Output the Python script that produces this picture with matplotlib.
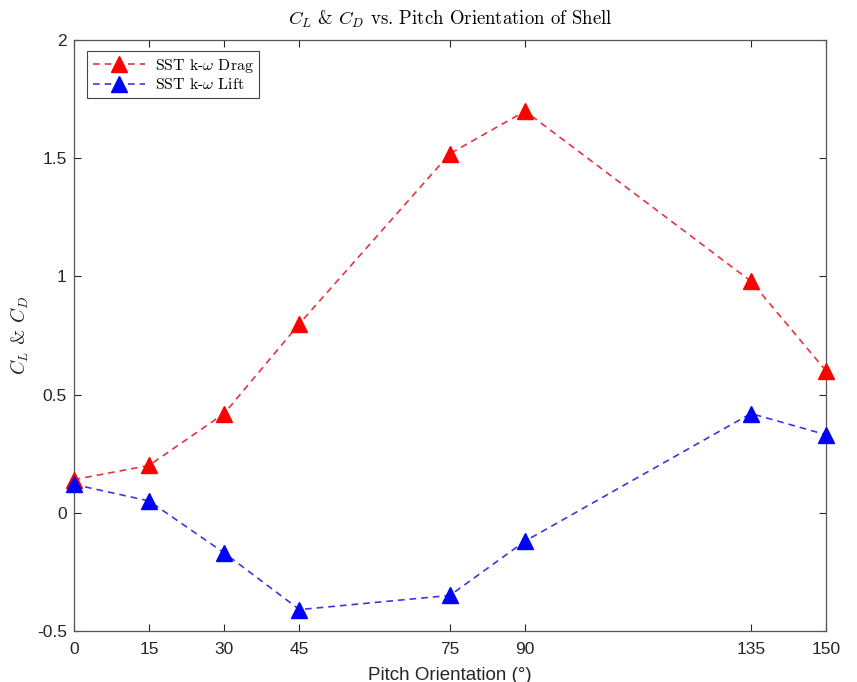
import numpy as np
import matplotlib
matplotlib.use('Agg')
import matplotlib.pyplot as plt

# Pitch angles (deg) and coefficients
pitch = [0, 15, 30, 45, 75, 90, 135, 150]
drag = [0.14, 0.20, 0.42, 0.80, 1.52, 1.70, 0.98, 0.60]
lift = [0.12, 0.05, -0.17, -0.41, -0.35, -0.12, 0.42, 0.33]

plt.rcParams['mathtext.fontset'] = 'cm'
plt.rcParams['font.family'] = ['Liberation Sans', 'DejaVu Sans']
plt.rcParams['axes.unicode_minus'] = False

fig = plt.figure(figsize=(8.57, 6.82), dpi=100)
ax = fig.add_axes([0.086, 0.075, 0.878, 0.866])

ax.plot(pitch, drag, '--^', color='#e53340', mfc='red', mec='red',
        ms=11, lw=1.2, dashes=(4, 3), label=r'SST k-$\omega$ Drag',
        clip_on=False, zorder=3)
ax.plot(pitch, lift, '--^', color='#3b38e0', mfc='blue', mec='blue',
        ms=11, lw=1.2, dashes=(4, 3), label=r'SST k-$\omega$ Lift',
        clip_on=False, zorder=3)

ax.set_xlim(0, 150)
ax.set_ylim(-0.5, 2)
ax.set_xticks(pitch)
ax.set_yticks([-0.5, 0, 0.5, 1, 1.5, 2])
ax.set_yticklabels(['-0.5', '0', '0.5', '1', '1.5', '2'])
ax.tick_params(direction='in', top=True, right=True, labelsize=12.5,
               length=5, color='#262626', labelcolor='#262626')
ax.tick_params(axis='x', pad=8)
ax.tick_params(axis='y', pad=5)
for s in ax.spines.values():
    s.set_color('#555555')
    s.set_linewidth(0.9)

ax.set_title(r'$C_L$ & $C_D$ vs. Pitch Orientation of Shell',
             family='cmr10', fontsize=13.5, pad=11)
ax.set_xlabel('Pitch Orientation (°)', fontsize=13.5, color='#262626',
              labelpad=7)
ax.set_ylabel(r'$C_L$ & $C_D$', family='cmr10', fontsize=14,
              color='#262626', labelpad=4)

leg = ax.legend(loc='upper left', prop={'family': 'cmr10', 'size': 11.4},
                fancybox=False, edgecolor='#444444', framealpha=1,
                handlelength=3.3, handletextpad=0.6, borderpad=0.35,
                labelspacing=0.15, borderaxespad=0,
                bbox_to_anchor=(0.018, 0.981))
leg.get_frame().set_linewidth(0.8)

fig.savefig('out.png', dpi=100)
